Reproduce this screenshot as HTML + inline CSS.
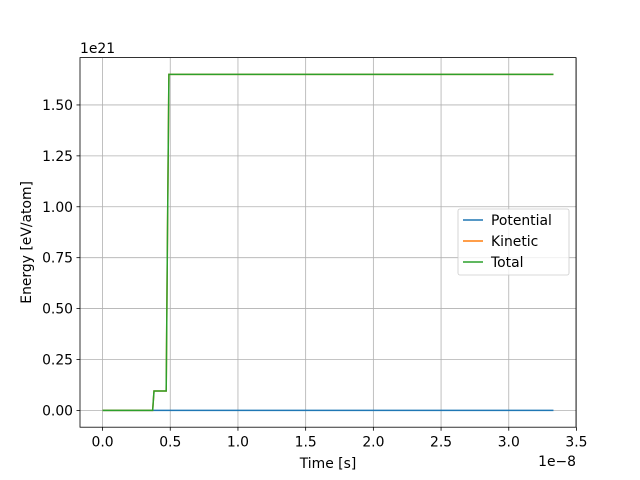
<!DOCTYPE html>
<html><head><meta charset="utf-8"><style>
html,body{margin:0;padding:0;background:#fff}
svg{display:block;font-family:"DejaVu Sans","Liberation Sans",sans-serif}
</style></head><body>
<svg id="chart" width="640" height="480" xmlns="http://www.w3.org/2000/svg"></svg>
<script>
const times = [0, 0.37, 0.38, 0.39, 0.47, 0.48, 0.49, 1.0, 2.0, 3.0, 3.33];
const potential = [0, 0, 0, 0, 0, 0, 0, 0, 0, 0, 0];
const kinetic = [0, 0, 0.095, 0.095, 0.095, 0.9, 1.65, 1.65, 1.65, 1.65, 1.65];
const total = [0, 0, 0.095, 0.095, 0.095, 0.9, 1.65, 1.65, 1.65, 1.65, 1.65];
const xTicks = [0, 0.5, 1.0, 1.5, 2.0, 2.5, 3.0, 3.5];
const xTickLabels = ["0.0","0.5","1.0","1.5","2.0","2.5","3.0","3.5"];
const yTicks = [0, 0.25, 0.5, 0.75, 1.0, 1.25, 1.5];
const yTickLabels = ["0.00","0.25","0.50","0.75","1.00","1.25","1.50"];
const seriesNames = ["Potential","Kinetic","Total"];

const L=80,R=576,T=57.6,B=427.2,FS=13.9;
const xmin=-0.1665,xmax=3.4965,ymin=-0.0825,ymax=1.7325;
const sx=v=>L+(v-xmin)/(xmax-xmin)*(R-L);
const sy=v=>B-(v-ymin)/(ymax-ymin)*(B-T);
const svg=document.getElementById('chart');
const NS="http://www.w3.org/2000/svg";
function mk(tag,attrs,parent){const e=document.createElementNS(NS,tag);for(const k in attrs)e.setAttribute(k,attrs[k]);(parent||svg).appendChild(e);return e;}

xTicks.forEach((t,i)=>{
  const g=mk('line',{x1:sx(t),x2:sx(t),y1:T,y2:B,stroke:'#b0b0b0','stroke-width':0.8});
  
  
  mk('line',{x1:sx(t),x2:sx(t),y1:B,y2:B+3.5,stroke:'#000','stroke-width':0.8});
  const tx=mk('text',{x:sx(t),y:B+19.5,'font-size':FS,'text-anchor':'middle',fill:'#000'});
  tx.textContent=xTickLabels[i];
  
  
});
yTicks.forEach((t,i)=>{
  const g=mk('line',{x1:L,x2:R,y1:sy(t),y2:sy(t),stroke:'#b0b0b0','stroke-width':0.8});
  
  
  mk('line',{x1:L-3.5,x2:L,y1:sy(t),y2:sy(t),stroke:'#000','stroke-width':0.8});
  const tx=mk('text',{x:L-7,y:sy(t)+5,'font-size':FS,'text-anchor':'end',fill:'#000'});
  tx.textContent=yTickLabels[i];
  
  
});

const colors=['#1f77b4','#ff7f0e','#2ca02c'];
[potential,kinetic,total].forEach((arr,si)=>{
  const pts=times.map((t,i)=>sx(t).toFixed(2)+','+sy(arr[i]).toFixed(2)).join(' ');
  const p=mk('polyline',{points:pts,fill:'none',stroke:colors[si],'stroke-width':1.5});
  
  
});

const fr=mk('rect',{x:L,y:T,width:R-L,height:B-T,fill:'none',stroke:'#000','stroke-width':0.8});



let t;
t=mk('text',{x:(L+R)/2,y:468,'font-size':FS,'text-anchor':'middle'});t.textContent='Time [s]';


t=mk('text',{x:0,y:0,'font-size':FS,'text-anchor':'middle',transform:`translate(31,${(T+B)/2}) rotate(-90)`});t.textContent='Energy [eV/atom]';


t=mk('text',{x:R,y:466,'font-size':FS,'text-anchor':'end'});t.textContent='1e\u22128';


t=mk('text',{x:L,y:53,'font-size':FS,'text-anchor':'start'});t.textContent='1e21';



const lg=mk('g',{});


mk('rect',{x:458,y:209,width:111,height:66,rx:2,fill:'#fff','fill-opacity':0.8,stroke:'#ccc','stroke-width':0.8},lg);
seriesNames.forEach((n,i)=>{
  const y=220+i*21;
  const e=mk('g',{},lg);
  
  
  mk('line',{x1:463,x2:483,y1:y,y2:y,stroke:colors[i],'stroke-width':1.5},e);
  const tx=mk('text',{x:491,y:y+5,'font-size':FS},e);tx.textContent=n;
});
</script>
</body></html>
